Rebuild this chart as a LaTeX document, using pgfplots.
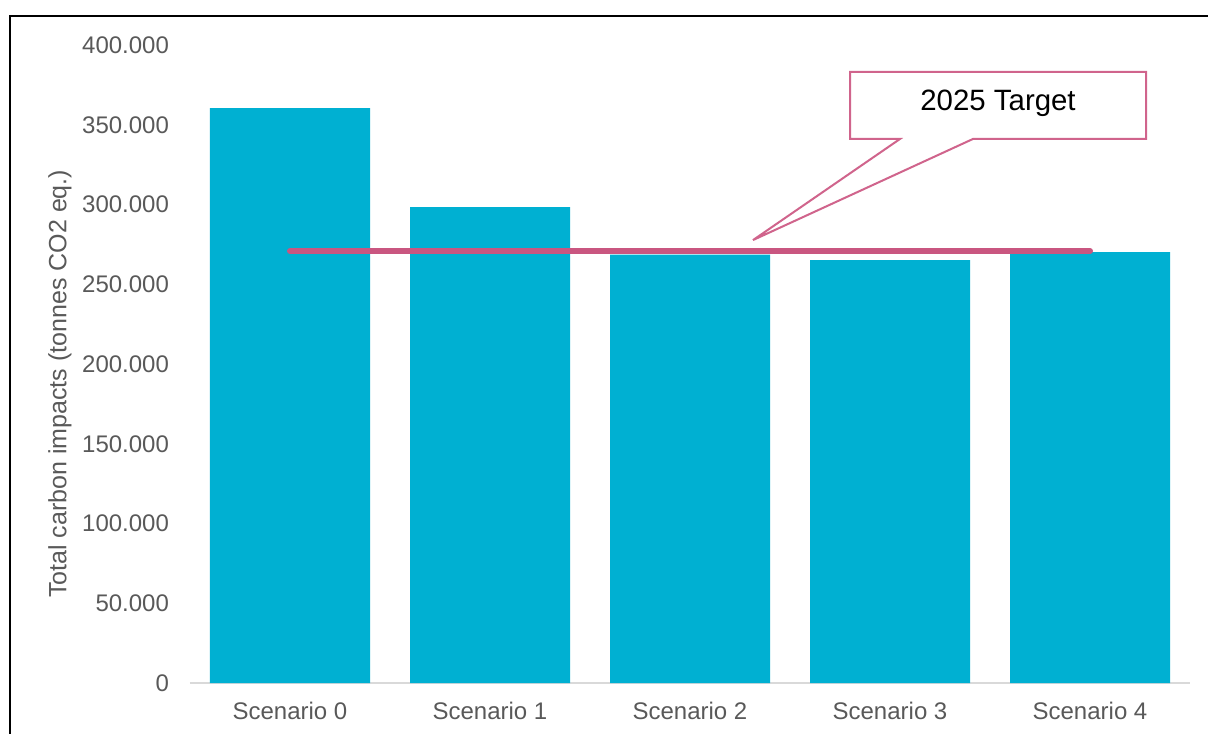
\documentclass[border=0pt]{standalone}
\usepackage{fontspec}
\setmainfont{Liberation Sans}
\usepackage{pgfplots}
\pgfplotsset{compat=1.18}
\definecolor{barblue}{RGB}{0,176,210}
\definecolor{target}{RGB}{201,86,128}
\definecolor{callout}{RGB}{208,100,140}
\definecolor{txtgray}{RGB}{89,89,89}
\definecolor{axgray}{RGB}{217,217,217}
\begin{document}
\begin{tikzpicture}
\useasboundingbox (-95pt,-25pt) rectangle (509pt,341.5pt);
\draw[black,line width=1pt] (-90pt,-26pt) -- (-90pt,333.5pt) -- (510pt,333.5pt);
\begin{axis}[
  at={(0pt,0pt)}, anchor=south west,
  scale only axis, width=500pt, height=319pt,
  xmin=-0.5, xmax=4.5, ymin=0, ymax=400000,
  clip=false,
  axis lines=left,
  axis line style={-},
  x axis line style={draw=axgray, line width=0.6pt},
  y axis line style={draw=none},
  major tick length=0pt,
  xtick={0,1,2,3,4},
  xticklabels={Scenario 0,Scenario 1,Scenario 2,Scenario 3,Scenario 4},
  ytick={0,50000,100000,150000,200000,250000,300000,350000,400000},
  scaled y ticks=false,
  /pgf/number format/.cd, fixed, 1000 sep={.}, assume math mode=true,
  /pgfplots/.cd,
  tick label style={font=\fontsize{12}{14}\selectfont, text=txtgray},
  yticklabel style={xshift=-7pt},
  xticklabel style={yshift=-6pt},
  ylabel={Total carbon impacts (tonnes CO2 eq.)},
  ylabel style={at={(axis description cs:-0.13,0.469)}, anchor=center, font=\fontsize{12.5}{14}\selectfont, text=txtgray},
]
\addplot[ybar, bar width=80pt, bar shift=0pt, fill=barblue, draw=none]
  coordinates {(0,360500) (1,298400) (2,268500) (3,265200) (4,270200)};
\addplot[target, line width=3pt, line cap=round]
  coordinates {(0,270800) (4,270800)};
\draw[callout, line width=1pt, fill=white, line join=miter]
  (axis cs:2.8,383100) -- (axis cs:4.28,383100) -- (axis cs:4.28,341100)
  -- (axis cs:3.415,341100) -- (axis cs:2.315,277700) -- (axis cs:3.05,341100)
  -- (axis cs:2.8,341100) -- cycle;
\node[font=\fontsize{14.7}{17}\selectfont, text=black] at (axis cs:3.54,363500) {2025 Target};
\end{axis}
\end{tikzpicture}
\end{document}
